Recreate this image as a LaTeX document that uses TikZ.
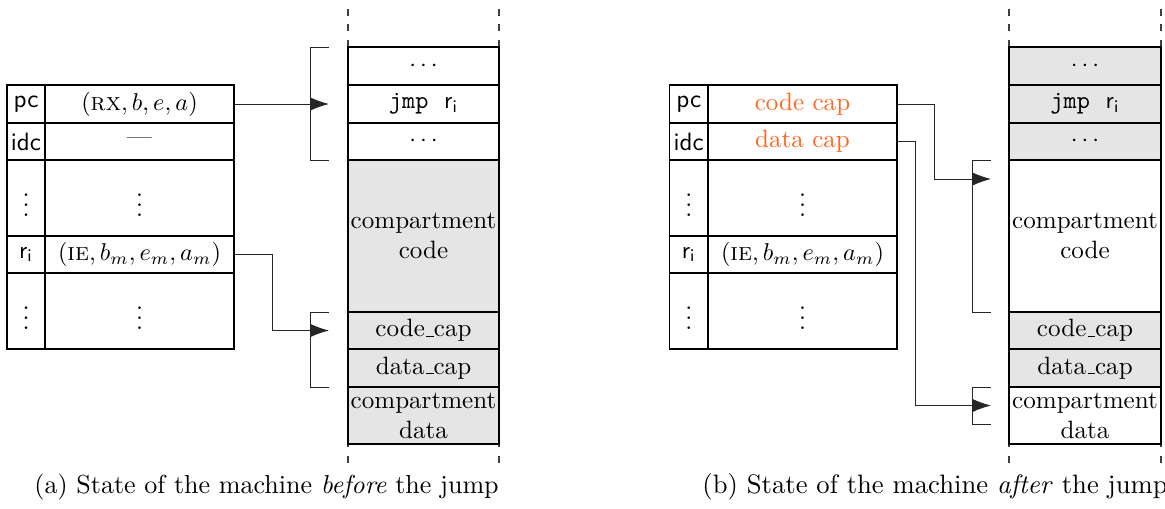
\documentclass[tikz,border=0pt]{standalone}
\usetikzlibrary{arrows.meta,calc}
\definecolor{capcol}{RGB}{255,102,31}
\newcommand\pxu{0.411pt}
\newcommand\regr{\ensuremath{\mathsf{r}_\mathsf{i}}}
% short baseline underscore, as in the classic OT1 \_
\newcommand\uscore{\leavevmode\kern.06em\vbox{\hrule width.3em}}
\begin{document}
\begin{tikzpicture}[x=0.411pt, y=-0.411pt,
  every node/.style={font=\fontsize{10.3}{12.3}\selectfont},
  cell/.style={draw, line width=0.7pt, inner sep=0pt, align=center},
  regname/.style={cell, minimum width=38.5*\pxu},
  regval/.style={cell, minimum width=189*\pxu},
  memcell/.style={cell, minimum width=151.5*\pxu},
  rowh/.style={minimum height=#1*\pxu},
  shade/.style={fill=black!10},
  column/.style={line width=0.7pt, black!75, dash pattern=on 7*\pxu off 8.4*\pxu},
  bracket/.style={line width=0.4pt, black!85},
  link/.style={line width=0.4pt, black!85, -{Latex[length=7.8pt, width=5.6pt]}},
  caption/.style={anchor=base west, inner sep=0pt, font=\fontsize{10.7}{13}\selectfont}]
\useasboundingbox (0,0) rectangle (1165,508);

% ---------------- (a) before the jump ----------------
% memory column guides
\draw[column] (348,9) -- (348,463);
\draw[column] (499,9) -- (499,463);

% register file
\node[regname, rowh=38] (apc)   at (26,104)   {\textsf{pc}};
\node[regval,  rowh=38] (apcv)  at (139.5,104) {$(\textsc{rx}, b, e, a)$};
\node[regname, rowh=37] (aidc)  at (26,141.5) {\textsf{idc}};
\node[regval,  rowh=37] (aidcv) at (139.5,141.5) {---};
\node[regname, rowh=76] (ad1)   at (26,198)   {$\vdots$};
\node[regval,  rowh=76] (ad1v)  at (139.5,198) {$\vdots$};
\node[regname, rowh=37] (ari)   at (26,254.5) {\regr};
\node[regval,  rowh=37] (ariv)  at (139.5,254.5) {$(\textsc{ie}, b_m, e_m, a_m)$};
\node[regname, rowh=76] (ad2)   at (26,311)   {$\vdots$};
\node[regval,  rowh=76] (ad2v)  at (139.5,311) {$\vdots$};

% memory
\node[memcell, rowh=38] (am1)   at (423.5,66)    {$\cdots$};
\node[memcell, rowh=38] (ajmp)  at (423.5,104)   {\texttt{jmp}\hspace{6.5pt}\regr};
\node[memcell, rowh=37] (am2)   at (423.5,141.5) {$\cdots$};
\node[memcell, rowh=152, shade] (acode) at (423.5,236) {compartment\\code};
\node[memcell, rowh=37, shade] (accap) at (423.5,330.5) {code\uscore cap};
\node[memcell, rowh=38, shade] (adcap) at (423.5,368) {data\uscore cap};
\node[memcell, rowh=57, shade] (adata) at (423.5,415.5) {compartment\\data};

% bracket ends and arrow targets
\coordinate (ab1t) at (329,47);  \coordinate (ab1b) at (329,160);
\coordinate (ab2t) at (329,312); \coordinate (ab2b) at (329,387);
\coordinate (aend1) at (329,104);
\coordinate (aend2) at (329,330.5);

\draw[bracket] (ab1t) -- (310,47) -- (310,160) -- (ab1b);
\draw[bracket] (ab2t) -- (310,312) -- (310,387) -- (ab2b);

\draw[link] (apcv.east) -- (aend1);
\draw[link] (ariv.east) -- (272,254.5) |- (aend2);

\node[caption] (capa) at (34,493) {(a) State of the machine \emph{before} the jump};

% ---------------- (b) after the jump ----------------
\draw[column] (1009,9) -- (1009,463);
\draw[column] (1161,9) -- (1161,463);

\node[regname, rowh=38] (bpc)   at (688.75,104)   {\textsf{pc}};
\node[regval,  rowh=38] (bpcv)  at (802.5,104)    {\textcolor{capcol}{code cap}};
\node[regname, rowh=37] (bidc)  at (688.75,141.5) {\textsf{idc}};
\node[regval,  rowh=37] (bidcv) at (802.5,141.5)  {\textcolor{capcol}{data cap}};
\node[regname, rowh=76] (bd1)   at (688.75,198)   {$\vdots$};
\node[regval,  rowh=76] (bd1v)  at (802.5,198)    {$\vdots$};
\node[regname, rowh=37] (bri)   at (688.75,254.5) {\regr};
\node[regval,  rowh=37] (briv)  at (802.5,254.5)  {$(\textsc{ie}, b_m, e_m, a_m)$};
\node[regname, rowh=76] (bd2)   at (688.75,311)   {$\vdots$};
\node[regval,  rowh=76] (bd2v)  at (802.5,311)    {$\vdots$};

\node[memcell, rowh=38, shade] (bm1)   at (1085,66)    {$\cdots$};
\node[memcell, rowh=38, shade] (bjmp)  at (1085,104)   {\texttt{jmp}\hspace{6.5pt}\regr};
\node[memcell, rowh=37, shade] (bm2)   at (1085,141.5) {$\cdots$};
\node[memcell, rowh=152] (bcode) at (1085,236) {compartment\\code};
\node[memcell, rowh=37, shade] (bccap) at (1085,330.5) {code\uscore cap};
\node[memcell, rowh=38, shade] (bdcap) at (1085,368) {data\uscore cap};
\node[memcell, rowh=57, fill=white] (bdata) at (1085,415.5) {compartment\\data};

\coordinate (bb1t) at (991,160); \coordinate (bb1b) at (991,312);
\coordinate (bb2t) at (991,387); \coordinate (bb2b) at (991,424);
\coordinate (bend1) at (991,179);
\coordinate (bend2) at (991,405.5);

\draw[bracket] (bb1t) -- (972,160) -- (972,312) -- (bb1b);
\draw[bracket] (bb2t) -- (972,387) -- (972,424) -- (bb2b);

\draw[link] (bpcv.east) -- (934,104) |- (bend1);
\draw[link] (bidcv.east) -- (915,141.5) |- (bend2);

\node[caption, font=\fontsize{10.95}{13.2}\selectfont] (capb) at (702,493) {(b) State of the machine \emph{after} the jump};
\end{tikzpicture}
\end{document}
